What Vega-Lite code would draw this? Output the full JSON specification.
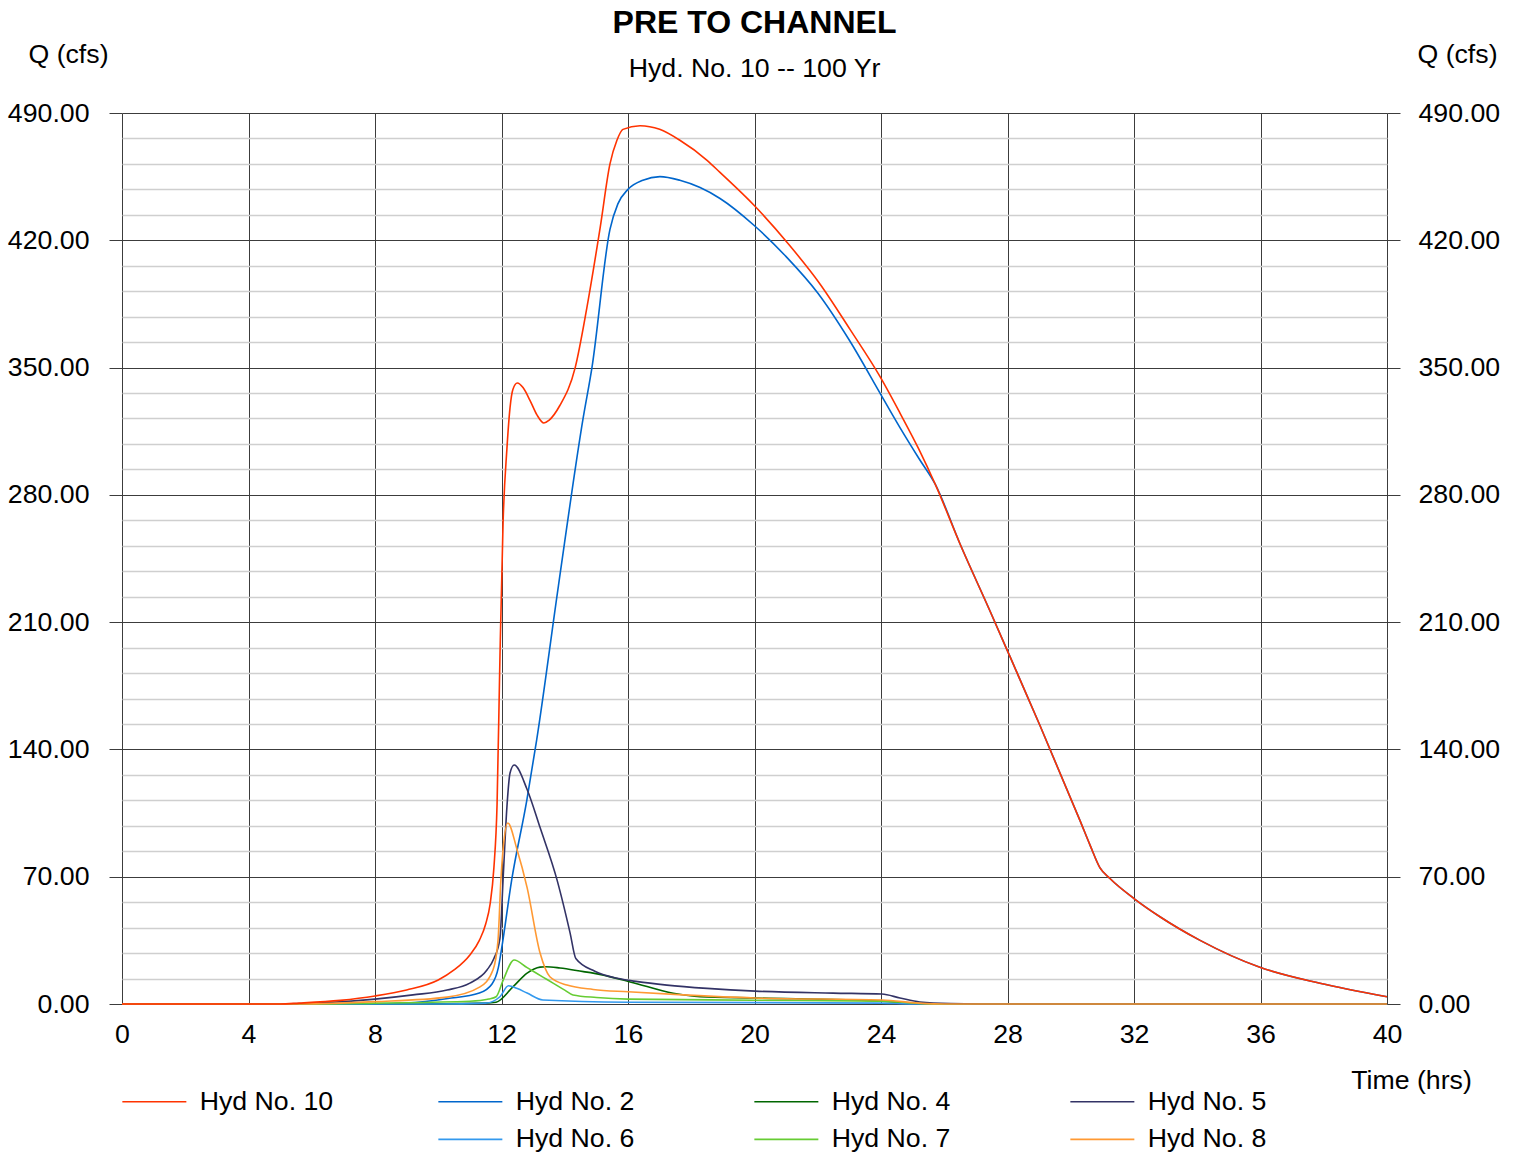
{
  "$schema": "https://vega.github.io/schema/vega-lite/v6.json",
  "width": 1265,
  "height": 891,
  "autosize": {"type": "none"},
  "padding": {"left": 122, "top": 113, "right": 129, "bottom": 149},
  "background": "white",
  "config": {
    "font": "Liberation Sans",
    "view": {"stroke": null},
    "axis": {"labelFont": "Liberation Sans", "titleFont": "Liberation Sans", "labelColor": "black", "titleColor": "black", "labelFontSize": 26.7, "titleFontSize": 26.7, "titleFontWeight": "normal", "labelOverlap": false, "labelFlush": false, "labelBound": false, "domain": false}
  },
  "title": {
    "text": "PRE TO CHANNEL",
    "subtitle": "Hyd. No. 10 -- 100 Yr",
    "anchor": "middle",
    "frame": "group",
    "font": "Liberation Sans",
    "subtitleFont": "Liberation Sans",
    "fontSize": 32,
    "fontWeight": "bold",
    "color": "black",
    "subtitleFontSize": 26.7,
    "subtitleColor": "black",
    "subtitlePadding": 16,
    "offset": -43
  },
  "data": {
    "values": [
      {"h":"Hyd No. 2","t":0,"q":0},{"h":"Hyd No. 2","t":8,"q":0},{"h":"Hyd No. 2","t":9,"q":0.5},{"h":"Hyd No. 2","t":10.3,"q":3},{"h":"Hyd No. 2","t":11.3,"q":6},{"h":"Hyd No. 2","t":11.7,"q":11},{"h":"Hyd No. 2","t":11.9,"q":20},{"h":"Hyd No. 2","t":12.0,"q":30},{"h":"Hyd No. 2","t":12.32,"q":68},{"h":"Hyd No. 2","t":12.8,"q":112},{"h":"Hyd No. 2","t":13.11,"q":145},{"h":"Hyd No. 2","t":13.8,"q":230},{"h":"Hyd No. 2","t":14.58,"q":322},{"h":"Hyd No. 2","t":14.86,"q":350},{"h":"Hyd No. 2","t":15.43,"q":426},{"h":"Hyd No. 2","t":15.68,"q":440},{"h":"Hyd No. 2","t":16.0,"q":448},{"h":"Hyd No. 2","t":16.47,"q":453},{"h":"Hyd No. 2","t":17.01,"q":455},{"h":"Hyd No. 2","t":17.64,"q":453},{"h":"Hyd No. 2","t":18.28,"q":449},{"h":"Hyd No. 2","t":18.91,"q":443},{"h":"Hyd No. 2","t":20.0,"q":428},{"h":"Hyd No. 2","t":21.0,"q":411},{"h":"Hyd No. 2","t":22.0,"q":391},{"h":"Hyd No. 2","t":23.0,"q":365},{"h":"Hyd No. 2","t":24.0,"q":335},{"h":"Hyd No. 2","t":24.6,"q":317},{"h":"Hyd No. 2","t":25.2,"q":300},{"h":"Hyd No. 2","t":25.71,"q":286},{"h":"Hyd No. 2","t":26.5,"q":253},{"h":"Hyd No. 2","t":27.45,"q":216},{"h":"Hyd No. 2","t":28.08,"q":191},{"h":"Hyd No. 2","t":29.03,"q":153},{"h":"Hyd No. 2","t":30.29,"q":101},{"h":"Hyd No. 2","t":30.61,"q":87.4},{"h":"Hyd No. 2","t":30.92,"q":75},{"h":"Hyd No. 2","t":31.24,"q":69},{"h":"Hyd No. 2","t":32.0,"q":58},{"h":"Hyd No. 2","t":32.82,"q":48},{"h":"Hyd No. 2","t":34.09,"q":35},{"h":"Hyd No. 2","t":35.98,"q":20.2},{"h":"Hyd No. 2","t":37.88,"q":11.4},{"h":"Hyd No. 2","t":40,"q":4},

      {"h":"Hyd No. 4","t":0,"q":0},{"h":"Hyd No. 4","t":9,"q":0},{"h":"Hyd No. 4","t":11.5,"q":0.5},{"h":"Hyd No. 4","t":11.83,"q":1},{"h":"Hyd No. 4","t":12.36,"q":9.4},{"h":"Hyd No. 4","t":12.81,"q":17},{"h":"Hyd No. 4","t":13.22,"q":20.3},{"h":"Hyd No. 4","t":13.4,"q":20.5},{"h":"Hyd No. 4","t":13.85,"q":19.8},{"h":"Hyd No. 4","t":14.59,"q":17.8},{"h":"Hyd No. 4","t":14.9,"q":17},{"h":"Hyd No. 4","t":16.1,"q":12},{"h":"Hyd No. 4","t":17.43,"q":5.9},{"h":"Hyd No. 4","t":18.28,"q":4},{"h":"Hyd No. 4","t":20,"q":3.3},{"h":"Hyd No. 4","t":24.03,"q":1.6},{"h":"Hyd No. 4","t":25.2,"q":0.3},{"h":"Hyd No. 4","t":26,"q":0},{"h":"Hyd No. 4","t":40,"q":0},

      {"h":"Hyd No. 6","t":0,"q":0},{"h":"Hyd No. 6","t":10,"q":0},{"h":"Hyd No. 6","t":11.5,"q":0.5},{"h":"Hyd No. 6","t":11.95,"q":4},{"h":"Hyd No. 6","t":12.22,"q":10},{"h":"Hyd No. 6","t":12.5,"q":8.5},{"h":"Hyd No. 6","t":12.81,"q":6},{"h":"Hyd No. 6","t":13.31,"q":2.2},{"h":"Hyd No. 6","t":16,"q":1},{"h":"Hyd No. 6","t":24,"q":0.5},{"h":"Hyd No. 6","t":25,"q":0},{"h":"Hyd No. 6","t":40,"q":0},

      {"h":"Hyd No. 7","t":0,"q":0},{"h":"Hyd No. 7","t":6,"q":0},{"h":"Hyd No. 7","t":8,"q":0.5},{"h":"Hyd No. 7","t":11,"q":1.5},{"h":"Hyd No. 7","t":11.6,"q":2.7},{"h":"Hyd No. 7","t":11.83,"q":4},{"h":"Hyd No. 7","t":12.05,"q":13},{"h":"Hyd No. 7","t":12.4,"q":24.2},{"h":"Hyd No. 7","t":12.81,"q":20},{"h":"Hyd No. 7","t":13.31,"q":14.8},{"h":"Hyd No. 7","t":13.63,"q":11.5},{"h":"Hyd No. 7","t":14.0,"q":7.6},{"h":"Hyd No. 7","t":14.26,"q":5},{"h":"Hyd No. 7","t":15.0,"q":3.6},{"h":"Hyd No. 7","t":16.0,"q":2.7},{"h":"Hyd No. 7","t":20,"q":2.1},{"h":"Hyd No. 7","t":24.03,"q":1.6},{"h":"Hyd No. 7","t":25.2,"q":0.3},{"h":"Hyd No. 7","t":26,"q":0},{"h":"Hyd No. 7","t":40,"q":0},

      {"h":"Hyd No. 5","t":0,"q":0},{"h":"Hyd No. 5","t":5,"q":0},{"h":"Hyd No. 5","t":6.5,"q":0.8},{"h":"Hyd No. 5","t":8,"q":2.7},{"h":"Hyd No. 5","t":9.2,"q":5},{"h":"Hyd No. 5","t":10.28,"q":7.7},{"h":"Hyd No. 5","t":11,"q":11.5},{"h":"Hyd No. 5","t":11.54,"q":18.7},{"h":"Hyd No. 5","t":11.76,"q":25},{"h":"Hyd No. 5","t":11.95,"q":36},{"h":"Hyd No. 5","t":12.06,"q":72},{"h":"Hyd No. 5","t":12.17,"q":108},{"h":"Hyd No. 5","t":12.27,"q":127},{"h":"Hyd No. 5","t":12.4,"q":131.4},{"h":"Hyd No. 5","t":12.81,"q":118},{"h":"Hyd No. 5","t":13.22,"q":97},{"h":"Hyd No. 5","t":13.76,"q":68},{"h":"Hyd No. 5","t":14.17,"q":39},{"h":"Hyd No. 5","t":14.35,"q":25},{"h":"Hyd No. 5","t":14.95,"q":18},{"h":"Hyd No. 5","t":15.7,"q":14},{"h":"Hyd No. 5","t":16.3,"q":12.3},{"h":"Hyd No. 5","t":17.23,"q":10.4},{"h":"Hyd No. 5","t":18.5,"q":8.6},{"h":"Hyd No. 5","t":20.02,"q":7.1},{"h":"Hyd No. 5","t":22.48,"q":6},{"h":"Hyd No. 5","t":24.03,"q":5.5},{"h":"Hyd No. 5","t":24.6,"q":3.3},{"h":"Hyd No. 5","t":25.23,"q":1.1},{"h":"Hyd No. 5","t":26.2,"q":0.3},{"h":"Hyd No. 5","t":28,"q":0},{"h":"Hyd No. 5","t":40,"q":0},

      {"h":"Hyd No. 8","t":0,"q":0},{"h":"Hyd No. 8","t":5.5,"q":0},{"h":"Hyd No. 8","t":8,"q":1.3},{"h":"Hyd No. 8","t":10.28,"q":3.8},{"h":"Hyd No. 8","t":11.32,"q":9.4},{"h":"Hyd No. 8","t":11.73,"q":18.7},{"h":"Hyd No. 8","t":11.89,"q":35},{"h":"Hyd No. 8","t":11.98,"q":68},{"h":"Hyd No. 8","t":12.05,"q":85},{"h":"Hyd No. 8","t":12.2,"q":99.5},{"h":"Hyd No. 8","t":12.49,"q":85},{"h":"Hyd No. 8","t":12.81,"q":64},{"h":"Hyd No. 8","t":13.22,"q":28},{"h":"Hyd No. 8","t":13.53,"q":15},{"h":"Hyd No. 8","t":14.07,"q":10.4},{"h":"Hyd No. 8","t":14.9,"q":8},{"h":"Hyd No. 8","t":16.0,"q":6.7},{"h":"Hyd No. 8","t":17.74,"q":5},{"h":"Hyd No. 8","t":20,"q":3.3},{"h":"Hyd No. 8","t":24.03,"q":2.2},{"h":"Hyd No. 8","t":25.2,"q":0.5},{"h":"Hyd No. 8","t":26,"q":0},{"h":"Hyd No. 8","t":40,"q":0},

      {"h":"Hyd No. 10","t":0,"q":0},{"h":"Hyd No. 10","t":5,"q":0},{"h":"Hyd No. 10","t":5.6,"q":0.5},{"h":"Hyd No. 10","t":6.9,"q":2},{"h":"Hyd No. 10","t":8,"q":4.4},{"h":"Hyd No. 10","t":9,"q":7.7},{"h":"Hyd No. 10","t":10,"q":13.2},{"h":"Hyd No. 10","t":10.5,"q":18.7},{"h":"Hyd No. 10","t":11,"q":27},{"h":"Hyd No. 10","t":11.3,"q":35},{"h":"Hyd No. 10","t":11.5,"q":44},{"h":"Hyd No. 10","t":11.64,"q":55},{"h":"Hyd No. 10","t":11.76,"q":75},{"h":"Hyd No. 10","t":11.86,"q":110},{"h":"Hyd No. 10","t":11.95,"q":190},{"h":"Hyd No. 10","t":12.05,"q":265},{"h":"Hyd No. 10","t":12.17,"q":305},{"h":"Hyd No. 10","t":12.27,"q":328},{"h":"Hyd No. 10","t":12.36,"q":338},{"h":"Hyd No. 10","t":12.5,"q":341.5},{"h":"Hyd No. 10","t":12.68,"q":339},{"h":"Hyd No. 10","t":12.9,"q":332},{"h":"Hyd No. 10","t":13.12,"q":324},{"h":"Hyd No. 10","t":13.34,"q":319.5},{"h":"Hyd No. 10","t":13.5,"q":321},{"h":"Hyd No. 10","t":13.84,"q":329},{"h":"Hyd No. 10","t":14.33,"q":350},{"h":"Hyd No. 10","t":14.7,"q":383},{"h":"Hyd No. 10","t":15.12,"q":427},{"h":"Hyd No. 10","t":15.43,"q":462},{"h":"Hyd No. 10","t":15.65,"q":475},{"h":"Hyd No. 10","t":15.84,"q":481},{"h":"Hyd No. 10","t":16.38,"q":483},{"h":"Hyd No. 10","t":17.0,"q":481},{"h":"Hyd No. 10","t":17.64,"q":475},{"h":"Hyd No. 10","t":18.5,"q":464},{"h":"Hyd No. 10","t":18.9,"q":457.5},{"h":"Hyd No. 10","t":20.0,"q":439},{"h":"Hyd No. 10","t":21.12,"q":417},{"h":"Hyd No. 10","t":22.07,"q":396},{"h":"Hyd No. 10","t":23.02,"q":371},{"h":"Hyd No. 10","t":23.97,"q":345},{"h":"Hyd No. 10","t":24.6,"q":325},{"h":"Hyd No. 10","t":25.2,"q":305},{"h":"Hyd No. 10","t":25.71,"q":286},{"h":"Hyd No. 10","t":26.5,"q":253},{"h":"Hyd No. 10","t":27.45,"q":216},{"h":"Hyd No. 10","t":28.08,"q":191},{"h":"Hyd No. 10","t":29.03,"q":153},{"h":"Hyd No. 10","t":30.29,"q":101},{"h":"Hyd No. 10","t":30.61,"q":87.4},{"h":"Hyd No. 10","t":30.92,"q":75},{"h":"Hyd No. 10","t":31.24,"q":69},{"h":"Hyd No. 10","t":32.0,"q":58},{"h":"Hyd No. 10","t":32.82,"q":48},{"h":"Hyd No. 10","t":34.09,"q":35},{"h":"Hyd No. 10","t":35.98,"q":20.2},{"h":"Hyd No. 10","t":37.88,"q":11.4},{"h":"Hyd No. 10","t":40,"q":4}
    ]
  },
  "layer": [
    {
      "mark": {"type": "line", "strokeWidth": 1.6, "interpolate": "monotone"},
      "encoding": {
        "x": {
          "field": "t", "type": "quantitative",
          "scale": {"domain": [0, 40], "nice": false},
          "axis": {
            "values": [0,4,8,12,16,20,24,28,32,36,40],
            "grid": true, "gridColor": "#3c3c3c", "gridWidth": 1,
            "ticks": false, "tickSize": 0,
            "labelPadding": 17,
            "title": "Time (hrs)", "titleX": 1289, "titleY": 84, "titleAlign": "center", "titleBaseline": "alphabetic", "titleAnchor": null
          }
        },
        "y": {
          "field": "q", "type": "quantitative",
          "scale": {"domain": [0, 490], "nice": false},
          "axis": {
            "orient": "left",
            "values": [0,14,28,42,56,70,84,98,112,126,140,154,168,182,196,210,224,238,252,266,280,294,308,322,336,350,364,378,392,406,420,434,448,462,476,490],
            "labelExpr": "datum.value % 70 == 0 ? format(datum.value, '.2f') : ''",
            "labelPadding": 20,
            "tickSize": 13,
            "tickColor": {"condition": {"test": "datum.value % 70 == 0", "value": "#3c3c3c"}, "value": "transparent"},
            "grid": true,
            "gridColor": {"condition": {"test": "datum.value % 70 == 0", "value": "#3c3c3c"}, "value": "#cfcfcf"},
            "gridWidth": {"condition": {"test": "datum.value % 70 == 0", "value": 1}, "value": 1.3},
            "title": "Q (cfs)", "titleAngle": 0, "titleAlign": "center", "titleBaseline": "alphabetic", "titleX": -54, "titleY": -51
          }
        },
        "color": {
          "field": "h", "type": "nominal",
          "scale": {
            "domain": ["Hyd No. 10","Hyd No. 2","Hyd No. 4","Hyd No. 5","blank","Hyd No. 6","Hyd No. 7","Hyd No. 8"],
            "range": ["#ff3300","#0066cc","#006600","#333366","transparent","#3399ee","#66cc33","#ff9933"]
          },
          "legend": {
            "orient": "none", "legendX": 19, "legendY": 975,
            "direction": "horizontal", "columns": 4, "gridAlign": "all",
            "columnPadding": 101, "rowPadding": 10, "padding": 0,
            "symbolType": "M-3.2,0H3.2", "symbolSize": 400, "symbolStrokeWidth": 1.6,
            "labelOffset": 32, "labelFontSize": 26.7, "labelFont": "Liberation Sans", "labelColor": "black", "labelLimit": 300,
            "labelExpr": "datum.label == 'blank' ? '' : datum.label",
            "title": null
          }
        }
      }
    },
    {
      "mark": {"type": "point", "opacity": 0},
      "encoding": {
        "y": {
          "field": "q", "type": "quantitative",
          "scale": {"domain": [0, 490], "nice": false},
          "axis": {
            "orient": "right",
            "values": [0,70,140,210,280,350,420,490],
            "format": ".2f",
            "labelPadding": 18, "tickSize": 13, "tickColor": "#3c3c3c",
            "grid": false,
            "title": "Q (cfs)", "titleAngle": 0, "titleAlign": "center", "titleBaseline": "alphabetic", "titleX": 70, "titleY": -51
          }
        }
      }
    }
  ],
  "resolve": {"scale": {"y": "independent"}}
}
